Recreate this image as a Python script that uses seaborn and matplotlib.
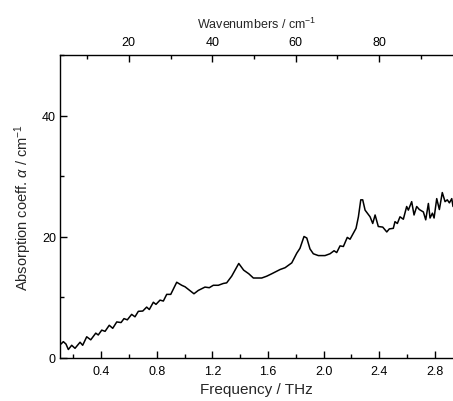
import matplotlib
matplotlib.use("Agg")
import matplotlib.pyplot as plt
import seaborn as sns
import numpy as np
import pandas as pd
from matplotlib.ticker import MultipleLocator, FixedLocator

# Absorption spectrum
freq_thz = [
    0.112, 0.129, 0.148, 0.165, 0.189, 0.213, 0.249, 0.268, 0.297, 0.326,
    0.362, 0.380, 0.405, 0.429, 0.459, 0.484, 0.513, 0.544, 0.565, 0.589,
    0.620, 0.644, 0.668, 0.700, 0.728, 0.747, 0.776, 0.795, 0.824, 0.848,
    0.872, 0.901, 0.944, 0.980, 1.004, 1.068, 1.099, 1.147, 1.178, 1.207,
    1.243, 1.279, 1.303, 1.339, 1.390, 1.425, 1.462, 1.495, 1.555, 1.591,
    1.627, 1.687, 1.723, 1.771, 1.807, 1.830, 1.859, 1.879, 1.902, 1.926,
    1.962, 2.010, 2.046, 2.075, 2.094, 2.118, 2.142, 2.170, 2.190, 2.233,
    2.250, 2.267, 2.281, 2.298, 2.334, 2.353, 2.370, 2.393, 2.425, 2.454,
    2.472, 2.501, 2.513, 2.530, 2.549, 2.573, 2.597, 2.609, 2.633, 2.650,
    2.669, 2.688, 2.717, 2.734, 2.753, 2.765, 2.782, 2.794, 2.813, 2.832,
    2.853, 2.873, 2.889, 2.904, 2.921, 2.930,
]
alpha = [
    2.3, 2.7, 2.3, 1.4, 2.1, 1.6, 2.6, 2.1, 3.5, 3.0,
    4.1, 3.8, 4.6, 4.4, 5.4, 4.9, 5.95, 5.85, 6.5, 6.3,
    7.2, 6.8, 7.7, 7.75, 8.4, 8.0, 9.2, 8.85, 9.55, 9.4,
    10.5, 10.5, 12.5, 12.0, 11.75, 10.6, 11.15, 11.7, 11.6, 12.0,
    12.0, 12.3, 12.4, 13.5, 15.6, 14.5, 13.9, 13.2, 13.2, 13.5,
    13.9, 14.6, 14.9, 15.7, 17.3, 18.1, 20.05, 19.8, 18.0, 17.2,
    16.9, 16.9, 17.2, 17.7, 17.4, 18.5, 18.4, 19.9, 19.6, 21.4,
    23.3, 26.1, 26.1, 24.4, 23.3, 22.2, 23.6, 21.7, 21.6, 20.8,
    21.3, 21.4, 22.5, 22.2, 23.3, 22.9, 25.0, 24.4, 25.8, 23.6,
    25.0, 24.5, 24.1, 22.8, 25.5, 23.1, 23.9, 23.1, 26.3, 24.5,
    27.3, 25.8, 26.1, 25.6, 26.3, 25.0,
]

freq_ticks = [0.4, 0.8, 1.2, 1.6, 2.0, 2.4, 2.8]
wn_ticks = [20, 40, 60, 80]
wn_minor = [10, 30, 50, 70, 90]

THZ_PER_WN = 0.029979  # 1 cm^-1 in THz

df = pd.DataFrame({"freq": freq_thz, "alpha": alpha})

sns.set_theme(style="ticks")
plt.rcParams["font.family"] = ["Liberation Sans", "DejaVu Sans"]
plt.rcParams["mathtext.fontset"] = "custom"
plt.rcParams["mathtext.rm"] = "Liberation Sans"
plt.rcParams["mathtext.it"] = "Liberation Sans:italic"

fig = plt.figure(figsize=(4.53, 4.02), dpi=100)
ax = fig.add_axes([60 / 453, 43 / 402, 393 / 453, 303 / 402])

sns.lineplot(data=df, x="freq", y="alpha", color="black", linewidth=1.1, ax=ax)

ax.set_xlim(0.105, 2.93)
ax.set_ylim(0, 50)
ax.xaxis.set_major_locator(FixedLocator(freq_ticks))
ax.xaxis.set_minor_locator(MultipleLocator(0.2))
ax.yaxis.set_major_locator(MultipleLocator(20))
ax.yaxis.set_minor_locator(MultipleLocator(10))
ax.set_xticklabels([f"{t:.1f}" for t in freq_ticks])

ax.tick_params(which="both", direction="in", labelsize=9, colors="black", width=1)
ax.tick_params(which="major", length=5)
ax.tick_params(which="minor", length=3)
ax.tick_params(axis="x", pad=5)
ax.tick_params(axis="y", pad=3)

for s in ["left", "bottom", "top"]:
    ax.spines[s].set_linewidth(1)
    ax.spines[s].set_color("black")
ax.spines["right"].set_visible(False)

ax.set_xlabel("Frequency / THz", fontsize=11, labelpad=4)
ax.set_ylabel(r"Absorption coeff. $\alpha$ / cm$^{-1}$", fontsize=10.5, labelpad=6)

# top axis in wavenumbers
top = ax.secondary_xaxis("top", functions=(lambda f: f / THZ_PER_WN, lambda w: w * THZ_PER_WN))
top.xaxis.set_major_locator(FixedLocator(wn_ticks))
top.xaxis.set_minor_locator(FixedLocator(wn_minor))
top.set_xticklabels([str(t) for t in wn_ticks])
top.tick_params(which="both", direction="in", labelsize=9, colors="black", width=1, pad=5)
top.tick_params(which="major", length=5)
top.tick_params(which="minor", length=3)
top.spines["top"].set_visible(False)
top.set_xlabel(r"Wavenumbers / cm$^{-1}$", fontsize=9, labelpad=6)

fig.savefig("out.png", dpi=100)
